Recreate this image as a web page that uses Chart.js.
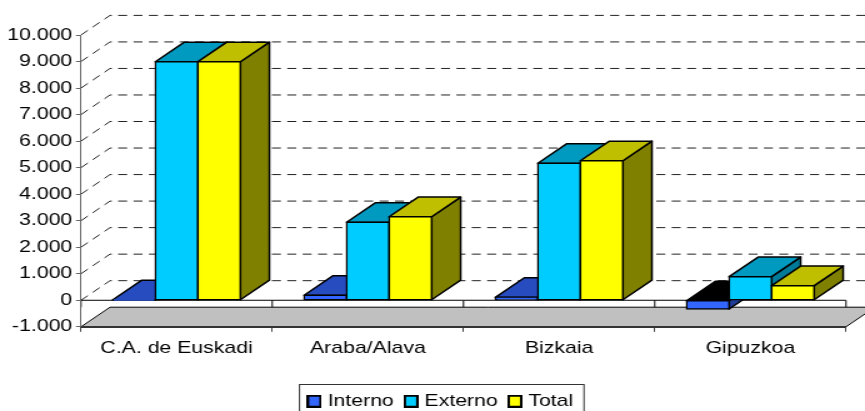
<!DOCTYPE html>
<html>
<head>
<meta charset="utf-8">
<title>Interno Externo Total</title>
<script src="https://cdn.jsdelivr.net/npm/chart.js@4/dist/chart.umd.min.js"></script>
<style>
html, body { margin: 0; padding: 0; background: #fff; overflow: hidden; }
/* the original picture is stretched sideways, so the whole canvas is too */
#chart { display: block; transform: scale(1.25, 1); transform-origin: 0 0; }
</style>
</head>
<body>
<canvas id="chart" width="692" height="411"></canvas>
<script>
const categories = ['C.A. de Euskadi', 'Araba/Alava', 'Bizkaia', 'Gipuzkoa'];
const interno = [10, 190, 110, -330];
const externo = [8990, 2940, 5165, 890];
const total = [8990, 3150, 5260, 550];

const frontColors = ['#3366ff', '#00ccff', '#ffff00'];
const topColors = ['#264cbf', '#0099bf', '#bfbf00'];
const sideColors = ['#1f3d99', '#007a99', '#808000'];

const FONT = { family: '"Liberation Sans", Arial, sans-serif', size: 17 };
const DEPTH_X = 23.2;
const DEPTH_Y = 19.6;

// Small legend square, the library only gives a fixed gap after its own boxes
function legendSwatch(color) {
    const c = document.createElement('canvas');
    c.width = 12;
    c.height = 13;
    const g = c.getContext('2d');
    g.fillStyle = color;
    g.fillRect(1, 1, 10, 11);
    g.strokeStyle = '#000';
    g.lineWidth = 2;
    g.strokeRect(1, 1, 10, 11);
    return c;
}

function poly(ctx, points, fill) {
    ctx.beginPath();
    points.forEach((p, i) => (i ? ctx.lineTo(p[0], p[1]) : ctx.moveTo(p[0], p[1])));
    ctx.closePath();
    ctx.fillStyle = fill;
    ctx.fill();
    ctx.stroke();
}

// Top and side of each box of one series
function drawFaces(chart, index) {
    const { ctx } = chart;
    const values = chart.data.datasets[index].data;
    ctx.save();
    ctx.lineWidth = 1.5;
    ctx.strokeStyle = '#000';
    ctx.lineJoin = 'round';
    chart.getDatasetMeta(index).data.forEach((bar, i) => {
        const l = bar.x - bar.width / 2;
        const r = bar.x + bar.width / 2;
        const up = Math.min(bar.y, bar.base);
        const down = Math.max(bar.y, bar.base);
        poly(ctx, [
            [r, up], [r + DEPTH_X, up - DEPTH_Y],
            [r + DEPTH_X, down - DEPTH_Y], [r, down]
        ], sideColors[index]);
        poly(ctx, [
            [l, up], [r, up],
            [r + DEPTH_X, up - DEPTH_Y], [l + DEPTH_X, up - DEPTH_Y]
        ], values[i] < 0 ? '#000' : topColors[index]);
    });
    ctx.restore();
}

const walls3d = {
    id: 'walls3d',
    // Moves the legend to where the frame is
    afterLayout(chart) {
        const lg = chart.legend;
        lg.left = 237.65;
        lg.top = 381.25;
    },
    // Floor and dashed walls go under the axes and the bars
    beforeDraw(chart) {
        const { ctx, scales: { x, y } } = chart;
        const left = x.left, right = x.right;
        const floorY = y.getPixelForValue(-1000);
        const zeroY = y.getPixelForValue(0);

        ctx.save();
        ctx.lineWidth = 1;
        ctx.strokeStyle = '#000';
        poly(ctx, [
            [left, floorY],
            [left + DEPTH_X, floorY - DEPTH_Y],
            [right + DEPTH_X, floorY - DEPTH_Y],
            [right, floorY]
        ], '#c0c0c0');

        ctx.strokeStyle = '#222';
        ctx.setLineDash([7.2, 5.1]);
        y.ticks.forEach(t => {
            if (t.value < 0) return;
            const py = y.getPixelForValue(t.value);
            ctx.beginPath();
            ctx.moveTo(left, py);
            ctx.lineTo(left + DEPTH_X, py - DEPTH_Y);
            ctx.lineTo(right + DEPTH_X, py - DEPTH_Y);
            ctx.stroke();
        });
        ctx.setLineDash([]);

        // Line at zero with its small ticks down to the floor
        ctx.strokeStyle = '#000';
        ctx.beginPath();
        ctx.moveTo(left, zeroY);
        ctx.lineTo(right, zeroY);
        for (let i = 0; i <= categories.length; i++) {
            const px = left + (right - left) * i / categories.length;
            ctx.moveTo(px, zeroY);
            ctx.lineTo(px, floorY - DEPTH_Y);
        }
        ctx.stroke();
        ctx.restore();
    },
    // Left to right so each box covers the side of the one before it
    beforeDatasetsDraw(chart) {
        chart.data.datasets.forEach((d, i) => {
            drawFaces(chart, i);
            chart.getDatasetMeta(i).controller.draw();
        });
        return false;
    },
    // Frame of the legend, its bottom edge falls off the picture
    afterDraw(chart) {
        const { ctx } = chart;
        ctx.save();
        ctx.strokeStyle = '#333';
        ctx.lineWidth = 1;
        ctx.strokeRect(239.6, 384.5, 227.6, 40);
        ctx.restore();
    }
};

function dataset(label, data, i) {
    return {
        label: label,
        data: data,
        backgroundColor: frontColors[i],
        borderColor: '#000',
        borderWidth: 1.5,
        inflateAmount: 0.75,
        borderSkipped: false
    };
}

new Chart(document.getElementById('chart'), {
    type: 'bar',
    data: {
        labels: categories,
        datasets: [
            dataset('Interno', interno, 0),
            dataset('Externo', externo, 1),
            dataset('Total', total, 2)
        ]
    },
    plugins: [walls3d],
    options: {
        responsive: false,
        animation: false,
        categoryPercentage: 0.667,
        barPercentage: 1,
        layout: { padding: { top: 35, right: 15.2, left: 0, bottom: 0 } },
        plugins: {
            tooltip: { enabled: false },
            title: { display: false },
            legend: {
                position: 'bottom',
                align: 'start',
                onClick: null,
                labels: {
                    color: '#000',
                    font: FONT,
                    usePointStyle: true,
                    pointStyleWidth: 4.5,
                    padding: 11.5,
                    generateLabels: chart => chart.data.datasets.map((d, i) => ({
                        text: d.label,
                        datasetIndex: i,
                        fontColor: '#000',
                        pointStyle: legendSwatch(d.backgroundColor)
                    }))
                }
            }
        },
        scales: {
            x: {
                afterFit: s => { s.height = 45.7; },
                ticks: { color: '#000', font: FONT, padding: 6, maxRotation: 0 },
                grid: { drawOnChartArea: false, tickLength: 5, tickColor: '#444', tickWidth: 1 },
                border: { color: '#333', width: 2 }
            },
            y: {
                min: -1000,
                max: 10000,
                afterFit: s => { s.width = 64.8; },
                ticks: {
                    stepSize: 1000,
                    color: '#000',
                    font: FONT,
                    padding: 3,
                    callback: v => v.toLocaleString('de-DE')
                },
                grid: { drawOnChartArea: false, tickLength: 4, tickColor: '#666', tickWidth: 1 },
                border: { color: '#666', width: 1 }
            }
        }
    }
});
</script>
</body>
</html>
